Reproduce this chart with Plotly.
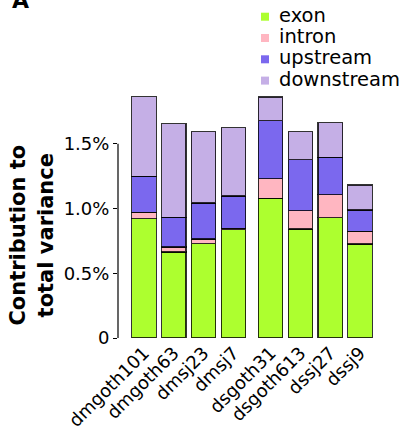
import plotly.graph_objects as go

samples = ["dmgoth101", "dmgoth63", "dmsj23", "dmsj7",
           "dsgoth31", "dsgoth613", "dssj27", "dssj9"]
groups = ["dm", "dm", "dm", "dm", "ds", "ds", "ds", "ds"]

exon = [0.920, 0.665, 0.729, 0.837, 1.079, 0.842, 0.930, 0.726]
intron = [0.051, 0.038, 0.036, 0.010, 0.150, 0.142, 0.177, 0.098]
upstream = [0.278, 0.229, 0.278, 0.250, 0.448, 0.392, 0.289, 0.165]
downstream = [0.616, 0.724, 0.549, 0.528, 0.185, 0.216, 0.268, 0.193]

series = [("exon", exon, "#ADFF2F"),
          ("intron", intron, "#FFB6C1"),
          ("upstream", upstream, "#7B68EE"),
          ("downstream", downstream, "#C5AFE6")]

tick_vals = [0, 0.5, 1.0, 1.5]
tick_text = ["0", "0.5%", "1.0%", "1.5%"]

# x positions: extra gap between the two sample groups
group_gap = 0.25
xpos = []
g_index = 0
for i, g in enumerate(groups):
    if i > 0 and g != groups[i - 1]:
        g_index += 1
    xpos.append(i + g_index * group_gap)

W, H = 408, 427
ML, MR, MT, MB = 118, 33, 92, 89
PW, PH = W - ML - MR, H - MT - MB


def px_to_paper(px, py):
    return (px - ML) / PW, (H - MB - py) / PH


FONT = "DejaVu Sans"
fig = go.Figure()
for name, vals, color in series:
    fig.add_trace(go.Bar(
        x=xpos, y=vals, name=name, width=0.82,
        marker=dict(color=color, line=dict(color="rgba(0,0,0,0.8)", width=1.2)),
        showlegend=False,
    ))

# manual legend (square swatch + label) in the top-right corner
shapes = [dict(type="line", xref="paper", yref="y", x0=0, x1=0,
               y0=0, y1=1.5, line=dict(color="black", width=1.2))]
annotations = []
leg_x_sq, leg_x_txt, leg_y0, leg_dy, sq = 265, 277, 16.7, 21.3, 8
for i, (name, vals, color) in enumerate(series):
    cy = leg_y0 + i * leg_dy
    x0, y0 = px_to_paper(leg_x_sq - sq / 2, cy + sq / 2)
    x1, y1 = px_to_paper(leg_x_sq + sq / 2, cy - sq / 2)
    shapes.append(dict(type="rect", xref="paper", yref="paper",
                       x0=x0, x1=x1, y0=y0, y1=y1,
                       fillcolor=color, line=dict(width=0)))
    tx, ty = px_to_paper(leg_x_txt, cy - 1.5)
    annotations.append(dict(text=name, xref="paper", yref="paper", x=tx, y=ty,
                            xanchor="left", yanchor="middle", showarrow=False,
                            font=dict(size=19.5, family=FONT)))

annotations += [
    dict(text="<b>Contribution to<br>total variance</b>", textangle=-90,
         xref="paper", yref="paper", x=-0.335, y=0.42,
         xanchor="center", yanchor="middle",
         showarrow=False, font=dict(size=21, family=FONT)),
    dict(text="<b>A</b>", xref="paper", yref="paper", x=-0.378, y=1.313,
         xanchor="center", yanchor="bottom", showarrow=False,
         font=dict(size=22, family=FONT)),
]

fig.update_layout(
    barmode="stack",
    width=W, height=H,
    margin=dict(l=ML, r=MR, t=MT, b=MB, autoexpand=False),
    paper_bgcolor="white", plot_bgcolor="white",
    font=dict(family=FONT, color="black"),
    showlegend=False,
    xaxis=dict(range=[-0.87, 7.75], tickvals=xpos, ticktext=samples,
               tickangle=-45, tickfont=dict(size=18), showgrid=False,
               zeroline=False, showline=False, ticks="", automargin=False),
    yaxis=dict(range=[0, 1.9], tickvals=tick_vals, ticktext=tick_text,
               tickfont=dict(size=18), showgrid=False, zeroline=False,
               showline=False, ticks="outside", ticklen=4, tickwidth=1.2,
               tickcolor="black", automargin=False),
    shapes=shapes,
    annotations=annotations,
)

fig.write_html("out.html", config={"displayModeBar": False},
               post_script="document.body.style.margin='0px';"
                           "document.body.style.overflow='hidden';")
